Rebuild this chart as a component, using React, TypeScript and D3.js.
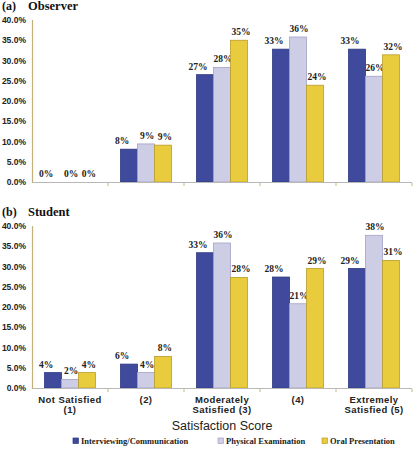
import React from "react";
import * as d3 from "d3";

const categories = ["c1", "c2", "c3", "c4", "c5"];
const categoryLabels = [
  ["Not Satisfied", "(1)"],
  ["(2)"],
  ["Moderately", "Satisfied (3)"],
  ["(4)"],
  ["Extremely", "Satisfied (5)"],
];
const seriesNames = ["Interviewing/Communication", "Physical Examination", "Oral Presentation"];
const seriesColors = ["#3f4a9c", "#cecde6", "#e9cb3e"];
const seriesStrokes = ["#2e3880", "#a3a2c6", "#b99d2a"];
const labelShift = [-7, 1, 2];

// Observer values (%)
const observerInterviewing = [0, 8.1, 26.5, 32.8, 32.8];
const observerPhysical = [0, 9.4, 28.3, 35.8, 26.1];
const observerOral = [0, 9.1, 35.0, 23.9, 31.4];
const observerLabels = [
  ["0%", "8%", "27%", "33%", "33%"],
  ["0%", "9%", "28%", "36%", "26%"],
  ["0%", "9%", "35%", "24%", "32%"],
];

// Student values (%)
const studentInterviewing = [3.8, 5.9, 33.4, 27.4, 29.5];
const studentPhysical = [2.1, 3.8, 35.8, 20.8, 37.7];
const studentOral = [3.8, 7.8, 27.3, 29.5, 31.5];
const studentLabels = [
  ["4%", "6%", "33%", "28%", "29%"],
  ["2%", "4%", "36%", "21%", "38%"],
  ["4%", "8%", "28%", "29%", "31%"],
];

const yTicks = [0, 5, 10, 15, 20, 25, 30, 35, 40];

const W = 415;
const H = 449;
const plotLeft = 32;
const plotRight = 412;

const x0 = d3.scaleBand<string>().domain(categories).range([plotLeft, plotRight]).padding(0);
const x1 = d3
  .scaleBand<string>()
  .domain(seriesNames)
  .range([0, x0.bandwidth()])
  .paddingInner(0)
  .paddingOuter(0.74);

function Panel({
  title,
  tag,
  top,
  bottom,
  series,
  labels,
}: {
  title: string;
  tag: string;
  top: number;
  bottom: number;
  series: number[][];
  labels: string[][];
}) {
  const y = d3.scaleLinear().domain([0, 40]).range([bottom, top]);
  const fmt = d3.format(".1f");
  return (
    <g>
      <text x={2} y={top - 10} fontFamily="Liberation Serif" fontWeight="bold" fontSize={12} fill="#111">
        {tag}
      </text>
      <text x={28} y={top - 10} fontFamily="Liberation Serif" fontWeight="bold" fontSize={12.5} fill="#111">
        {title}
      </text>
      {yTicks.map((t) => (
        <text
          key={t}
          x={26}
          y={y(t) + 3}
          textAnchor="end"
          fontFamily="Liberation Sans"
          fontWeight="bold"
          fontSize={8.5}
          fill="#222"
        >
          {fmt(t) + "%"}
        </text>
      ))}
      {series.map((vals, si) =>
        vals.map((v, ci) => {
          const cx = (x0(categories[ci]) as number) + (x1(seriesNames[si]) as number);
          const bw = x1.bandwidth();
          return (
            <g key={`${si}-${ci}`}>
              {v > 0 && (
                <rect
                  x={cx}
                  y={y(v)}
                  width={bw}
                  height={bottom - y(v)}
                  fill={seriesColors[si]}
                  stroke={seriesStrokes[si]}
                  strokeWidth={0.8}
                />
              )}
              <text
                x={cx + bw / 2 + labelShift[si]}
                y={y(v) - 5}
                textAnchor="middle"
                fontFamily="Liberation Serif"
                fontWeight="bold"
                fontSize={9.5}
                fill="#222"
              >
                {labels[si][ci]}
              </text>
            </g>
          );
        })
      )}
      <line x1={plotLeft} x2={plotRight} y1={bottom + 0.5} y2={bottom + 0.5} stroke="#b8b8b8" strokeWidth={1} />
      {categories.map((c, i) => (
        <line
          key={c}
          x1={(x0(c) as number) + x0.bandwidth()}
          x2={(x0(c) as number) + x0.bandwidth()}
          y1={bottom + 1}
          y2={bottom + 4}
          stroke="#c9b97e"
          strokeWidth={1}
        />
      ))}
      <line x1={plotLeft + 0.5} x2={plotLeft + 0.5} y1={top} y2={bottom + 1} stroke="#c2b07a" strokeWidth={1.2} />
    </g>
  );
}

export default function App() {
  const legendX = [73, 218, 322];
  return (
    <svg
      width={W}
      height={H}
      style={{ position: "absolute", left: 0, top: 0, background: "#fff" }}
      xmlns="http://www.w3.org/2000/svg"
    >
      <rect x={0} y={0} width={W} height={H} fill="#fff" />
      <Panel
        tag="(a)"
        title="Observer"
        top={20}
        bottom={182}
        series={[observerInterviewing, observerPhysical, observerOral]}
        labels={observerLabels}
      />
      <Panel
        tag="(b)"
        title="Student"
        top={226}
        bottom={388}
        series={[studentInterviewing, studentPhysical, studentOral]}
        labels={studentLabels}
      />
      {categoryLabels.map((lines, i) => {
        const cx = (x0(categories[i]) as number) + x0.bandwidth() / 2;
        return (
          <text
            key={i}
            textAnchor="middle"
            fontFamily="Liberation Sans"
            fontWeight="bold"
            fontSize={9.5}
            letterSpacing={0.4}
            fill="#222"
          >
            {lines.map((l, j) => (
              <tspan key={j} x={cx} y={403 + j * 10}>
                {l}
              </tspan>
            ))}
          </text>
        );
      })}
      <text
        x={(plotLeft + plotRight) / 2}
        y={430}
        textAnchor="middle"
        fontFamily="Liberation Sans"
        fontSize={12.5}
        fill="#222"
      >
        Satisfaction Score
      </text>
      {seriesNames.map((s, i) => (
        <g key={s}>
          <rect
            x={legendX[i]}
            y={438}
            width={5.5}
            height={5.5}
            fill={seriesColors[i]}
            stroke={seriesStrokes[i]}
            strokeWidth={0.7}
          />
          <text
            x={legendX[i] + 8}
            y={444}
            fontFamily="Liberation Serif"
            fontWeight="bold"
            fontSize={8.5}
            fill="#222"
          >
            {s}
          </text>
        </g>
      ))}
    </svg>
  );
}
